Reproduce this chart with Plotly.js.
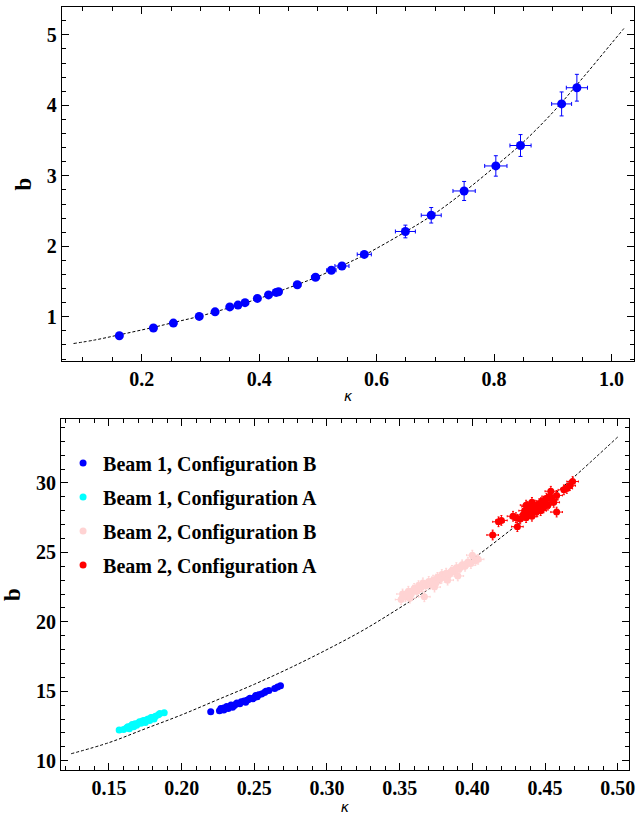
<!DOCTYPE html>
<html>
<head>
<meta charset="utf-8">
<script src="https://cdn.plot.ly/plotly-3.0.1.min.js"></script>
<style>html,body{margin:0;padding:0;background:#fff;}#chart{width:637px;height:820px;}</style>
</head>
<body>
<div id="chart"></div>
<script>
// ---- Top panel: b vs kappa with error bars ----
var topKappa = [0.162,0.220,0.254,0.298,0.325,0.350,0.364,0.376,0.397,0.416,0.429,0.433,0.465,0.496,0.523,0.541,0.579,0.649,0.693,0.749,0.803,0.845,0.915,0.941];
var topB     = [0.73,0.84,0.91,1.005,1.07,1.14,1.166,1.20,1.26,1.31,1.345,1.355,1.454,1.56,1.66,1.72,1.885,2.21,2.44,2.785,3.14,3.43,4.02,4.25];
var topKErr  = [0.004,0.004,0.004,0.004,0.004,0.004,0.004,0.004,0.004,0.004,0.004,0.004,0.006,0.007,0.008,0.012,0.012,0.017,0.017,0.019,0.019,0.018,0.017,0.018];
var topBErr  = [0.01,0.01,0.01,0.01,0.01,0.01,0.01,0.01,0.01,0.012,0.012,0.012,0.015,0.018,0.02,0.03,0.04,0.09,0.11,0.135,0.145,0.155,0.17,0.19];
// fit curve
var topFitK = [0.084,0.12,0.16,0.22,0.26,0.30,0.35,0.40,0.45,0.50,0.55,0.58,0.65,0.70,0.75,0.80,0.85,0.90,0.95,1.00,1.021];
var topFitB = [0.62,0.67,0.74,0.85,0.93,1.01,1.13,1.26,1.41,1.57,1.76,1.88,2.21,2.47,2.78,3.12,3.48,3.90,4.38,4.88,5.09];

// ---- Bottom panel ----
var legendNames = ["Beam 1, Configuration B","Beam 1, Configuration A","Beam 2, Configuration B","Beam 2, Configuration A"];
var b1BKappa = [0.220,0.226,0.227,0.229,0.229,0.231,0.232,0.234,0.235,0.236,0.237,0.238,0.240,0.241,0.243,0.244,0.245,0.246,0.247,0.249,0.250,0.251,0.252,0.253,0.255,0.257,0.258,0.260,0.264,0.266,0.268];
var b1BB     = [13.53,13.60,13.75,13.80,13.65,13.90,13.75,14.00,13.85,13.95,14.05,14.15,14.10,14.25,14.30,14.20,14.35,14.40,14.50,14.45,14.55,14.70,14.60,14.75,14.80,14.90,15.00,15.05,15.20,15.30,15.40];
var b1AKappa = [0.157,0.160,0.162,0.163,0.164,0.165,0.166,0.167,0.168,0.169,0.170,0.171,0.172,0.173,0.174,0.175,0.176,0.177,0.178,0.179,0.180,0.181,0.182,0.184,0.185,0.188];
var b1AB     = [12.20,12.25,12.35,12.45,12.30,12.50,12.60,12.45,12.65,12.55,12.70,12.80,12.70,12.85,12.90,12.75,12.95,13.00,12.90,13.10,13.10,13.00,13.20,13.30,13.40,13.45];
var b2BKappa = [0.351,0.352,0.354,0.356,0.357,0.358,0.360,0.362,0.363,0.365,0.366,0.367,0.368,0.370,0.371,0.373,0.374,0.375,0.376,0.378,0.379,0.381,0.382,0.383,0.384,0.386,0.388,0.389,0.390,0.391,0.393,0.395,0.397,0.399,0.400,0.402,0.404];
var b2BB     = [21.60,22.00,21.80,22.20,21.70,22.00,22.40,22.20,22.60,22.50,22.80,21.80,22.60,22.90,22.70,23.00,22.50,22.80,23.20,23.10,23.40,23.20,23.50,23.00,23.40,23.70,23.60,23.90,23.30,23.80,24.10,24.00,24.30,24.20,24.80,24.40,24.50];
var b2AKappa = [0.414,0.418,0.420,0.428,0.430,0.431,0.433,0.435,0.436,0.437,0.437,0.438,0.439,0.440,0.441,0.441,0.442,0.443,0.444,0.445,0.446,0.447,0.447,0.448,0.449,0.450,0.451,0.452,0.453,0.454,0.455,0.456,0.458,0.458,0.463,0.465,0.467,0.469];
var b2AB     = [26.25,27.20,27.30,27.60,27.50,26.85,27.40,27.70,28.00,27.50,28.40,28.30,27.80,28.00,27.60,28.60,28.20,28.40,27.90,28.10,28.50,28.30,28.00,28.70,28.20,28.60,28.90,28.40,29.00,29.40,28.80,28.60,27.90,29.10,29.50,29.60,29.80,30.10];
var botFitK = [0.124,0.15,0.175,0.20,0.225,0.25,0.275,0.30,0.325,0.35,0.375,0.40,0.425,0.45,0.475,0.50];
var botFitB = [10.5,11.3,12.3,13.3,14.4,15.5,16.7,18.0,19.4,21.0,22.7,24.5,26.5,28.6,30.9,33.3];

var tickFont = {family:"Liberation Serif, Times New Roman, serif", size:20, color:"#000", weight:"bold"};

var traces = [
  {x:topFitK, y:topFitB, mode:"lines", line:{color:"#000", width:1, dash:"3px,2px", shape:"spline"}, showlegend:false, hoverinfo:"skip", xaxis:"x", yaxis:"y"},
  {x:topKappa, y:topB, mode:"markers", showlegend:false, xaxis:"x", yaxis:"y",
   marker:{color:"#0000FF", size:9},
   error_x:{type:"data", array:topKErr, color:"#0000FF", thickness:1, width:2},
   error_y:{type:"data", array:topBErr, color:"#0000FF", thickness:1, width:2}},
  {x:botFitK, y:botFitB, mode:"lines", line:{color:"#000", width:1, dash:"3px,2px", shape:"spline"}, showlegend:false, hoverinfo:"skip", xaxis:"x2", yaxis:"y2"},
  {x:b1BKappa, y:b1BB, mode:"markers", name:legendNames[0], legendgroup:"g1", marker:{color:"#0000FF", size:7}, xaxis:"x2", yaxis:"y2"},
  {x:b1AKappa, y:b1AB, mode:"markers", name:legendNames[1], legendgroup:"g2", marker:{color:"#00FFFF", size:7}, xaxis:"x2", yaxis:"y2"},
  {x:b2BKappa, y:b2BB, mode:"markers", name:legendNames[2], legendgroup:"g3", marker:{color:"#FFD3D3", size:7}, xaxis:"x2", yaxis:"y2",
   error_x:{type:"constant", value:0.004, color:"#FFD3D3", thickness:1, width:1},
   error_y:{type:"constant", value:0.35, color:"#FFD3D3", thickness:1, width:1}},
  {x:b2AKappa, y:b2AB, mode:"markers", name:legendNames[3], legendgroup:"g4", marker:{color:"#FF0000", size:7}, xaxis:"x2", yaxis:"y2",
   error_x:{type:"constant", value:0.004, color:"#FF0000", thickness:1, width:1},
   error_y:{type:"constant", value:0.35, color:"#FF0000", thickness:1, width:1}}
];

function axisBase(extra){
  var a = {showline:true, linecolor:"#000", linewidth:1, mirror:"allticks", ticks:"inside", ticklen:7, tickcolor:"#000",
    showgrid:false, zeroline:false, tickfont:tickFont};
  for (var k in extra) a[k] = extra[k];
  return a;
}
var kTitle = {text:"<i>κ</i>", font:{family:"DejaVu Sans, sans-serif", size:14, color:"#000"}, standoff:2};
var bTitle = {text:"b", font:{family:"Liberation Serif, serif", size:23, color:"#000", weight:"bold"}, standoff:8};

var layout = {
  width:637, height:820, margin:{l:0,r:0,t:0,b:0}, paper_bgcolor:"#fff", plot_bgcolor:"#fff",
  showlegend:true,
  xaxis: axisBase({domain:[0.097,0.996], anchor:"y", range:[0.064,1.039], tickvals:[0.2,0.4,0.6,0.8,1.0], ticktext:["0.2","0.4","0.6","0.8","1.0"],
    minor:{tick0:0, dtick:0.05, ticks:"inside", ticklen:4, tickcolor:"#000"}, title:kTitle}),
  yaxis: axisBase({domain:[0.560,0.991], anchor:"x", range:[0.375,5.39], tick0:0, dtick:1,
    minor:{tick0:0, dtick:0.2, ticks:"inside", ticklen:4, tickcolor:"#000"}, title:bTitle}),
  xaxis2: axisBase({domain:[0.0958,0.987], anchor:"y2", range:[0.117,0.5076], tick0:0, dtick:0.05, tickformat:".2f",
    minor:{tick0:0, dtick:0.01, ticks:"inside", ticklen:4, tickcolor:"#000"}, title:kTitle}),
  yaxis2: axisBase({domain:[0.061,0.489], anchor:"x2", range:[9.33,34.6], tick0:0, dtick:5,
    minor:{tick0:0, dtick:1, ticks:"inside", ticklen:4, tickcolor:"#000"}, title:bTitle}),
  legend:{x:0.099, y:0.4590, xanchor:"left", yanchor:"top", traceorder:"grouped", tracegroupgap:5,
    bgcolor:"rgba(0,0,0,0)", borderwidth:0,
    font:{family:"Liberation Serif, Times New Roman, serif", size:20, color:"#000", weight:"bold"}}
};

Plotly.newPlot("chart", traces, layout, {displayModeBar:false, staticPlot:true});
</script>
</body>
</html>
